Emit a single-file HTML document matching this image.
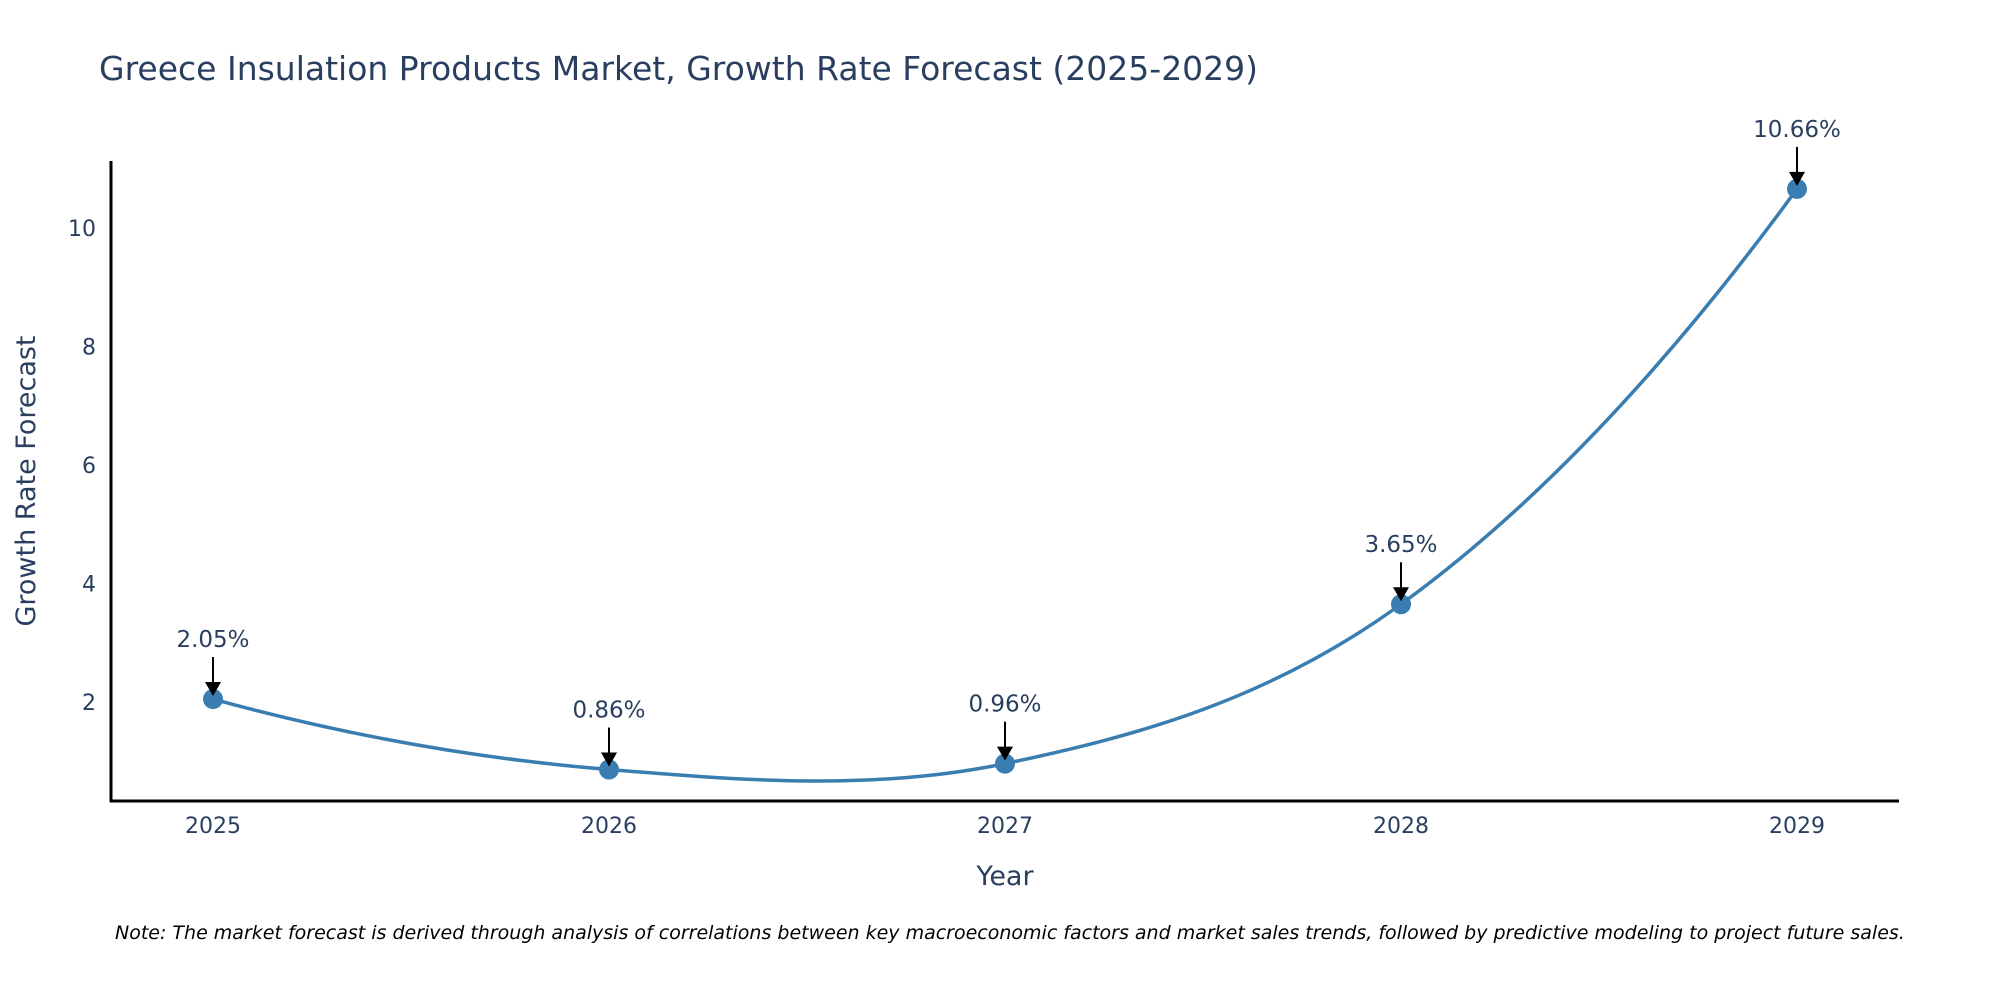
<!DOCTYPE html>
<html><head><meta charset="utf-8"><style>
body{margin:0;background:#fff;}
svg{display:block;font-family:"DejaVu Sans","Liberation Sans",sans-serif;}
</style></head><body>
<svg id="chart" width="2000" height="1000" viewBox="0 0 2000 1000">
<text x="99" y="80" font-size="33" fill="#2a3f5f">Greece Insulation Products Market, Growth Rate Forecast (2025-2029)</text>
<g id="yticks"></g>
<g id="xticks"></g>
<line x1="111" y1="161" x2="111" y2="802" stroke="#000" stroke-width="3"/>
<line x1="110" y1="801" x2="1899" y2="801" stroke="#000" stroke-width="3"/>
<text transform="translate(35,481) rotate(-90)" text-anchor="middle" font-size="27" fill="#2a3f5f">Growth Rate Forecast</text>
<text x="1005" y="885" text-anchor="middle" font-size="27" fill="#2a3f5f">Year</text>
<g id="series"></g>
<text x="115" y="939" font-size="19" font-style="italic" fill="#000">Note: The market forecast is derived through analysis of correlations between key macroeconomic factors and market sales trends, followed by predictive modeling to project future sales.</text>
</svg>
<script>
const years = [2025, 2026, 2027, 2028, 2029];
const growth = [2.05, 0.86, 0.96, 3.65, 10.66];
const labels = ["2.05%", "0.86%", "0.96%", "3.65%", "10.66%"];
const yTicks = [2, 4, 6, 8, 10];

const NS = "http://www.w3.org/2000/svg";
function xScale(v){ return 213 + (v - 2025) * 396; }
function yScale(v){ return 820.5 - v * 59.25; }
function mk(tag, attrs, parent){ const e = document.createElementNS(NS, tag); for (const k in attrs) e.setAttribute(k, attrs[k]); parent.appendChild(e); return e; }

const yg = document.getElementById('yticks');
yTicks.forEach(t => {
  const el = mk('text', {x: 96, y: yScale(t) + 8, 'text-anchor': 'end', 'font-size': 22, fill: '#2a3f5f'}, yg);
  el.textContent = t;
  
  
});
const xg = document.getElementById('xticks');
years.forEach(y => {
  const el = mk('text', {x: xScale(y), y: 833, 'text-anchor': 'middle', 'font-size': 22, fill: '#2a3f5f'}, xg);
  el.textContent = y;
  
  
});

const g = document.getElementById('series');
const pts = years.map((y, i) => [xScale(y), yScale(growth[i])]);
const n = pts.length;
let d = `M${pts[0][0]},${pts[0][1]}`;
for (let i = 0; i < n - 1; i++) {
  const p0 = pts[Math.max(0, i - 1)], p1 = pts[i], p2 = pts[i + 1], p3 = pts[Math.min(n - 1, i + 2)];
  const c1 = [p1[0] + (p2[0] - p0[0]) / 6, p1[1] + (p2[1] - p0[1]) / 6];
  const c2 = [p2[0] - (p3[0] - p1[0]) / 6, p2[1] - (p3[1] - p1[1]) / 6];
  if (i === 0 && n > 2) {
    const q = [p2[0] - (p3[0] - p1[0]) / 4, p2[1] - (p3[1] - p1[1]) / 4];
    d += ` Q${q[0]},${q[1]} ${p2[0]},${p2[1]}`;
  } else if (i === n - 2 && n > 2) {
    const q = [p1[0] + (p2[0] - p0[0]) / 4, p1[1] + (p2[1] - p0[1]) / 4];
    d += ` Q${q[0]},${q[1]} ${p2[0]},${p2[1]}`;
  } else {
    d += ` C${c1[0]},${c1[1]} ${c2[0]},${c2[1]} ${p2[0]},${p2[1]}`;
  }
}
const line = mk('path', {d: d, fill: 'none', stroke: '#3a7db0', 'stroke-width': 3.5}, g);



pts.forEach((p, i) => {
  const c = mk('circle', {cx: p[0], cy: p[1], r: 10, fill: '#3a7db0'}, g);
  
  
  const a = mk('line', {x1: p[0], y1: p[1] - 42, x2: p[0], y2: p[1] - 14, stroke: '#000', 'stroke-width': 2}, g);
  
  
  const h = mk('polygon', {points: `${p[0]-8},${p[1]-17} ${p[0]+8},${p[1]-17} ${p[0]},${p[1]-3}`, fill: '#000'}, g);
  
  
  const t = mk('text', {x: p[0], y: p[1] - 52, 'text-anchor': 'middle', 'font-size': 23, fill: '#2a3f5f'}, g);
  t.textContent = labels[i];
  
  
});
</script>
</body></html>
